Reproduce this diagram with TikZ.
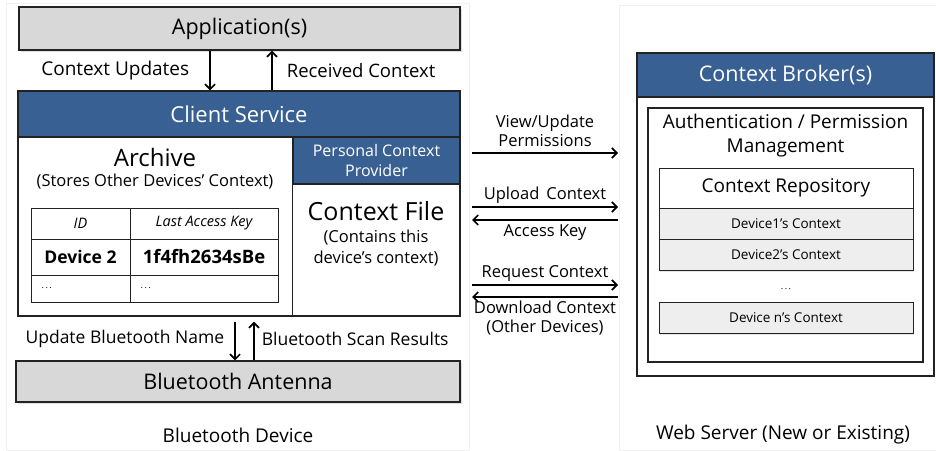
\documentclass[tikz,border=0pt]{standalone}
\usepackage{fontspec}
\setmainfont{Open Sans}
\definecolor{HeadBlue}{RGB}{57,96,146}
\definecolor{BoxGray}{RGB}{216,216,216}
\definecolor{RowGray}{RGB}{238,238,238}
\definecolor{EdgeDark}{RGB}{34,34,34}
\usetikzlibrary{arrows.meta, positioning, shadows}
\tikzset{
    base/.style={
        draw=EdgeDark,
        line width=1.2pt,
        inner sep=0pt,
        align=center
    },
    graybox/.style={base, fill=BoxGray, drop shadow={shadow xshift=1.5pt, shadow yshift=-2pt, opacity=0.25}},
    bluebox/.style={base, fill=HeadBlue, text=white},
    plainbox/.style={base, fill=white},
    rowbox/.style={base, line width=1pt, fill=RowGray, drop shadow={shadow xshift=1pt, shadow yshift=-1.5pt, opacity=0.2}, font=\fontsize{13.5}{16}\selectfont},
    cell/.style={base, line width=1pt, fill=white},
    txt/.style={inner sep=1pt, align=center},
    lbl/.style={txt, inner sep=2pt, font=\fontsize{18.5}{21}\selectfont},
    panel/.style={draw=black!6, line width=0.8pt}
}

\begin{document}
\begin{tikzpicture}[
            x=1pt, y=-1pt,
            arrow/.style={-{Straight Barb[length=5pt, width=10pt]}, line width=1.7pt, draw=black}
        ]
            \useasboundingbox (0,0) rectangle (936,450);
            % Panels
            \draw[panel] (6,3) rectangle (469,450);
            \draw[panel] (619,5) rectangle (936,450);

            % Bluetooth device
            \node[graybox, minimum width=441pt, minimum height=43pt, font=\fontsize{21.5}{24}\selectfont] (app) at (239.5,28.5) {Application(s)};
            \node[plainbox, minimum width=442pt, minimum height=225pt] (client) at (239,203.5) {};
            \node[bluebox, minimum width=442pt, minimum height=46pt, font=\fontsize{22}{25}\selectfont] (cs) at (239,114) {Client Service};
            \node[bluebox, minimum width=167pt, minimum height=47pt, font=\fontsize{16}{20}\selectfont] (pcp) at (376.5,160.5) {Personal Context\\Provider};
            \draw[draw=EdgeDark, line width=1.2pt] (pcp.south west) -- (pcp.south west |- client.south);

            \node[txt, font=\fontsize{24}{27}\selectfont] (archive) at (155,157) {Archive};
            \node[txt, font=\fontsize{16.5}{19}\selectfont] (archsub) at (155,182) {(Stores Other Devices' Context)};

            % Table
            \node[cell, minimum width=99pt, minimum height=31pt, font=\itshape\fontsize{14.5}{17}\selectfont] (idh) at (80.5,223.5) {ID};
            \node[cell, minimum width=148pt, minimum height=31pt, font=\itshape\fontsize{14.5}{17}\selectfont] (keyh) at (204,223.5) {Last Access Key};
            \node[cell, minimum width=99pt, minimum height=36pt, font=\bfseries\fontsize{17.5}{20}\selectfont] (id1) at (80.5,257) {Device 2};
            \node[cell, minimum width=148pt, minimum height=36pt, font=\bfseries\fontsize{18.5}{21}\selectfont] (key1) at (204,257) {1f4fh2634sBe};
            \node[cell, minimum width=99pt, minimum height=27pt] (id2) at (80.5,288.5) {};
            \node[cell, minimum width=148pt, minimum height=27pt] (key2) at (204,288.5) {};
            \node[txt, font=\fontsize{9}{10}\selectfont, right=10pt of id2.west] {.\,.\,.};
            \node[txt, font=\fontsize{9}{10}\selectfont, right=10pt of key2.west] {.\,.\,.};

            \node[txt, font=\fontsize{25}{28}\selectfont] (cfile) at (376,211) {Context File};
            \node[txt, font=\fontsize{16.5}{21}\selectfont] (cfsub) at (376,248) {(Contains this\\device's context)};

            \node[graybox, minimum width=444pt, minimum height=41pt, font=\fontsize{21.5}{24}\selectfont] (bt) at (238,381.5) {Bluetooth Antenna};
            \node[txt, font=\fontsize{19}{22}\selectfont] (btdev) at (238,435) {Bluetooth Device};

            % Arrows
            \draw[arrow] ([xshift=-29.5pt]app.south) -- node[lbl, left=18pt, font=\fontsize{19}{22}\selectfont] {Context Updates} ([xshift=-29pt]cs.north);
            \draw[arrow] ([xshift=33pt]cs.north) -- node[lbl, right=12pt] {Received Context} ([xshift=32.5pt]app.south);
            \draw[arrow, shorten <=5pt] ([xshift=-4pt]client.south) -- node[lbl, left=8pt, font=\fontsize{17.5}{20}\selectfont] {Update Bluetooth Name} ([xshift=-3pt]bt.north);
            \draw[arrow, shorten >=5pt] ([xshift=16pt]bt.north) -- node[lbl, right=5pt, font=\fontsize{17.5}{20}\selectfont] {Bluetooth Scan Results} ([xshift=15pt]client.south);

            % Web server
            \node[plainbox, minimum width=297pt, minimum height=323pt] (broker) at (785.5,214.5) {};
            \node[bluebox, minimum width=297pt, minimum height=44pt, font=\fontsize{21.5}{24}\selectfont] (cb) at (785.5,75) {Context Broker(s)};
            \node[plainbox, minimum width=275pt, minimum height=254pt] (auth) at (785.5,235) {};
            \node[txt, font=\fontsize{19}{24}\selectfont, below=5pt of auth.north] (authtxt) {Authentication / Permission\\Management};
            \node[plainbox, line width=1pt, minimum width=254pt, minimum height=40pt, font=\fontsize{19}{22}\selectfont] (repo) at (786,188) {Context Repository};
            \node[rowbox, minimum width=254pt, minimum height=31pt] (dev1) at (786,223.5) {Device1's Context};
            \node[rowbox, minimum width=254pt, minimum height=31pt] (dev2) at (786,254.5) {Device2's Context};
            \node[txt, font=\fontsize{9}{10}\selectfont] (devdots) at (786,289) {.\,.\,.};
            \node[rowbox, minimum width=254pt, minimum height=31pt] (devn) at (786,317.5) {Device n's Context};
            \node[txt, font=\fontsize{19}{22}\selectfont] (websrv) at (783,435) {Web Server (New or Existing)};

            % Messages
            \coordinate (perm-l) at (472,153);
            \coordinate (perm-r) at (618,153);
            \coordinate (up-l) at (472,207);
            \coordinate (up-r) at (618,207);
            \coordinate (key-l) at (472,220);
            \coordinate (key-r) at (618,220);
            \coordinate (req-l) at (472,285);
            \coordinate (req-r) at (618,285);
            \coordinate (down-l) at (472,297);
            \coordinate (down-r) at (618,297);
            \draw[arrow] (perm-l) -- node[lbl, above=3pt, font=\fontsize{16.5}{19}\selectfont] {View/Update\\Permissions} (perm-r);
            \draw[arrow] (up-l) -- node[lbl, above=1pt, font=\fontsize{16.5}{19}\selectfont] {Upload\, Context} (up-r);
            \draw[arrow] (key-r) -- node[lbl, below=2pt, font=\fontsize{16.5}{19}\selectfont] {Access Key} (key-l);
            \draw[arrow] (req-l) -- node[lbl, above=1pt, font=\fontsize{16.5}{19}\selectfont] {Request Context} (req-r);
            \draw[arrow] (down-r) -- node[lbl, below=1pt, font=\fontsize{16.5}{19}\selectfont] {Download Context\\(Other Devices)} (down-l);
        \end{tikzpicture}
\end{document}
